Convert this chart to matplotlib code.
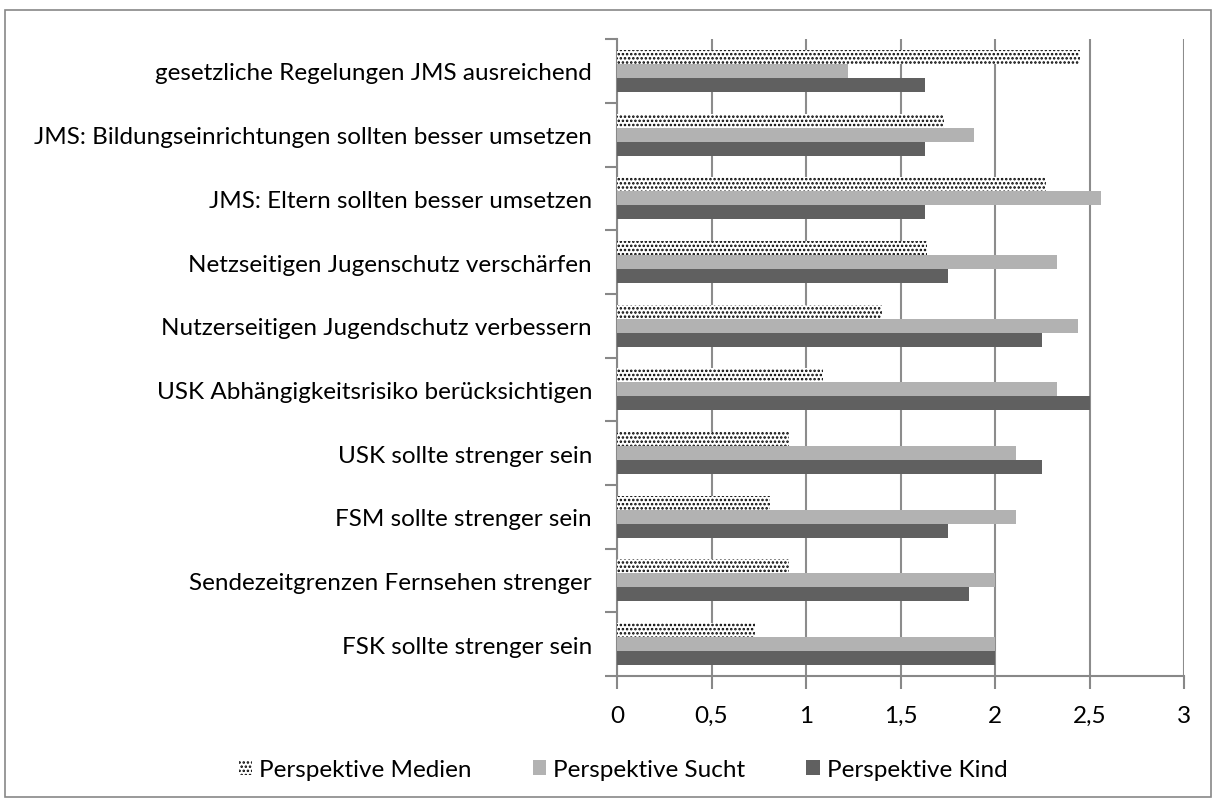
import numpy as np
import matplotlib.pyplot as plt
from matplotlib.patches import Rectangle

plt.rcParams['font.family'] = ['Lato', 'DejaVu Sans']
plt.rcParams['hatch.linewidth'] = 1.2

categories = [
    'FSK sollte strenger sein',
    'Sendezeitgrenzen Fernsehen strenger',
    'FSM sollte strenger sein',
    'USK sollte strenger sein',
    'USK Abhängigkeitsrisiko berücksichtigen',
    'Nutzerseitigen Jugendschutz verbessern',
    'Netzseitigen Jugenschutz verschärfen',
    'JMS: Eltern sollten besser umsetzen',
    'JMS: Bildungseinrichtungen sollten besser umsetzen',
    'gesetzliche Regelungen JMS ausreichend',
]
medien = [0.73, 0.91, 0.81, 0.91, 1.09, 1.40, 1.64, 2.27, 1.73, 2.45]
sucht = [2.0, 2.0, 2.11, 2.11, 2.33, 2.44, 2.33, 2.56, 1.89, 1.22]
kind = [2.0, 1.86, 1.75, 2.25, 2.5, 2.25, 1.75, 1.63, 1.63, 1.63]

fig = plt.figure(figsize=(12.17, 8.03), dpi=100)
ax = fig.add_axes([0.507, 0.157, 0.466, 0.793])

y = np.arange(len(categories))
h = 0.22
ax.barh(y + h, medien, h, color='white', edgecolor='black', linewidth=0,
        hatch='....', label='Perspektive Medien', zorder=3)
ax.barh(y, sucht, h, color='#b2b2b2', label='Perspektive Sucht', zorder=3)
ax.barh(y - h, kind, h, color='#606060', label='Perspektive Kind', zorder=3)

ax.set_xlim(0, 3)
ax.set_ylim(-0.5, len(categories) - 0.5)
ax.set_xticks(np.arange(0, 3.01, 0.5))
ax.set_xticklabels(['0', '0,5', '1', '1,5', '2', '2,5', '3'])
ax.set_yticks(y)
ax.set_yticklabels(categories)
ax.set_yticks(np.arange(-0.5, len(categories), 1), minor=True)
ax.tick_params(axis='y', which='major', length=0, pad=18, labelsize=17.5)
ax.tick_params(axis='y', which='minor', length=9, color='#888888', width=1.5)
ax.tick_params(axis='x', length=9, color='#888888', width=1.5, pad=12, labelsize=17.5)
ax.xaxis.grid(True, color='#8c8c8c', linewidth=1.5, zorder=0)
ax.set_axisbelow(True)
for s in ['top', 'right']:
    ax.spines[s].set_visible(False)
for s in ['left', 'bottom']:
    ax.spines[s].set_color('#888888')
    ax.spines[s].set_linewidth(1.5)

fig.legend(loc='center', bbox_to_anchor=(0.512, 0.04), ncol=3, frameon=False,
           fontsize=17.5, handlelength=0.55, handleheight=0.55, handletextpad=0.3,
           columnspacing=2.5)

fig.patches.append(Rectangle((0.004, 0.006), 0.991, 0.98, transform=fig.transFigure,
                             fill=False, edgecolor='#888888', linewidth=1.2))

fig.savefig('out.png', dpi=100)
